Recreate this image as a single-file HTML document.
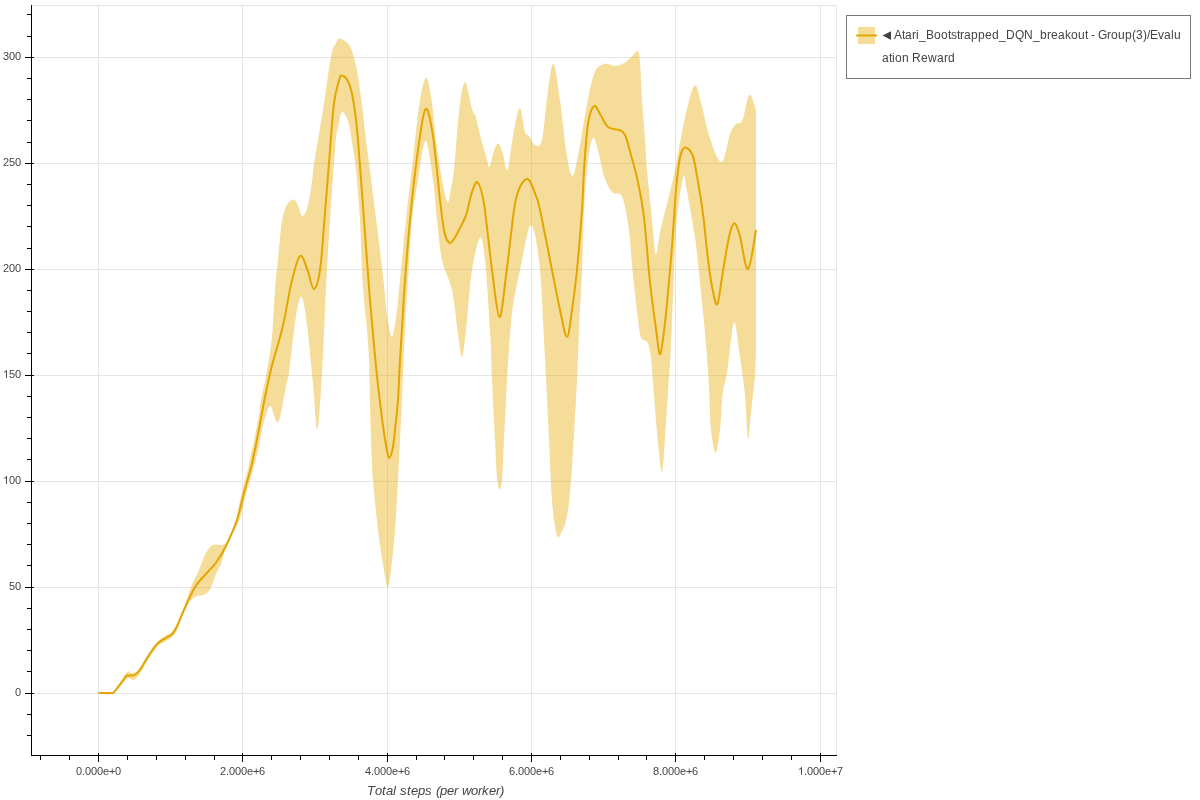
<!DOCTYPE html>
<html><head><meta charset="utf-8"><style>
html,body{margin:0;padding:0;background:#fff;width:1200px;height:800px;overflow:hidden}
svg{position:absolute;left:0;top:0;will-change:transform}
text{font-family:"Liberation Sans", sans-serif}
.leg{position:absolute;left:846px;top:15px;width:343px;height:62px;border:1px solid #777;box-sizing:content-box;background:#fff}
.lt{position:absolute;left:35px;top:8px;width:303px;font:12px "Liberation Sans", sans-serif;color:#444;line-height:23px;word-break:break-all;will-change:transform}
</style></head><body>
<svg width="1200" height="800" viewBox="0 0 1200 800">
<rect x="31.5" y="5.5" width="805" height="750" fill="none" stroke="#e5e5e5" stroke-width="1"/>
<g stroke="#e5e5e5" stroke-width="1"><line x1="98.5" y1="5" x2="98.5" y2="755" /><line x1="242.5" y1="5" x2="242.5" y2="755" /><line x1="387.5" y1="5" x2="387.5" y2="755" /><line x1="531.5" y1="5" x2="531.5" y2="755" /><line x1="675.5" y1="5" x2="675.5" y2="755" /><line x1="820.5" y1="5" x2="820.5" y2="755" /><line x1="32" y1="693.5" x2="837" y2="693.5" /><line x1="32" y1="587.5" x2="837" y2="587.5" /><line x1="32" y1="481.5" x2="837" y2="481.5" /><line x1="32" y1="375.5" x2="837" y2="375.5" /><line x1="32" y1="269.5" x2="837" y2="269.5" /><line x1="32" y1="163.5" x2="837" y2="163.5" /><line x1="32" y1="57.5" x2="837" y2="57.5" /></g>
<path d="M98.5 693.0C101.0 693.0 108.8 696.4 113.5 693.0C118.2 689.6 123.6 675.8 126.5 672.5C129.4 669.2 129.4 673.1 131.0 673.0C132.6 672.9 134.5 673.0 136.0 672.0C137.5 671.0 138.3 669.4 140.0 667.0C141.7 664.6 143.9 660.8 146.0 657.5C148.1 654.2 150.3 650.4 152.5 647.5C154.7 644.6 156.8 642.0 159.0 640.0C161.2 638.0 163.8 637.0 166.0 635.5C168.2 634.0 170.5 633.2 172.5 631.0C174.5 628.8 176.1 626.0 178.0 622.0C179.9 618.0 181.8 612.8 184.0 607.0C186.2 601.2 188.7 592.8 191.0 587.0C193.3 581.2 195.7 577.3 198.0 572.0C200.3 566.7 203.0 559.2 205.0 555.0C207.0 550.8 208.3 548.8 210.0 547.0C211.7 545.2 213.3 544.8 215.0 544.5C216.7 544.2 218.3 545.1 220.0 545.0C221.7 544.9 223.7 544.8 225.0 544.0C226.3 543.2 227.0 541.8 228.0 540.0C229.0 538.2 229.7 536.3 231.0 533.0C232.3 529.7 234.4 525.8 236.0 520.0C237.6 514.2 239.2 504.0 240.5 498.0C241.8 492.0 242.7 489.2 244.0 484.0C245.3 478.8 247.4 471.7 248.6 466.5C249.8 461.3 250.4 456.7 251.3 452.6C252.2 448.5 252.6 448.4 253.9 442.0C255.2 435.6 258.0 421.0 259.2 414.0C260.4 407.0 259.8 406.3 260.9 400.0C262.0 393.7 264.2 386.0 266.0 376.0C267.8 366.0 270.2 354.3 271.7 340.0C273.2 325.7 273.8 305.0 275.0 290.0C276.2 275.0 277.9 260.3 278.9 250.0C279.9 239.7 280.3 233.8 281.0 228.0C281.7 222.2 282.6 218.3 283.3 215.0C284.1 211.7 284.8 209.9 285.5 208.0C286.2 206.1 286.8 204.8 287.7 203.6C288.6 202.3 289.8 201.1 291.0 200.5C292.2 199.9 293.5 199.1 294.7 200.0C295.9 200.9 296.9 203.3 298.2 206.0C299.5 208.7 300.9 216.0 302.5 216.0C304.1 216.0 306.2 212.0 307.8 206.0C309.4 200.0 311.1 187.7 312.2 180.0C313.3 172.3 312.8 171.4 314.6 160.0C316.4 148.6 320.1 128.4 322.8 111.3C325.5 94.2 328.7 69.0 330.9 57.6C333.1 46.2 334.2 46.2 335.8 43.0C337.4 39.8 338.3 38.4 340.3 38.5C342.3 38.6 346.1 41.7 348.0 43.8C349.9 45.9 350.5 46.5 352.0 51.0C353.5 55.5 355.3 61.9 356.9 70.6C358.5 79.3 360.3 91.4 361.8 103.0C363.3 114.6 364.6 128.8 366.0 140.0C367.4 151.2 368.5 158.3 370.0 170.0C371.5 181.7 373.3 196.7 375.0 210.0C376.7 223.3 378.6 238.3 380.0 250.0C381.4 261.7 382.3 269.2 383.5 280.0C384.7 290.8 385.7 305.6 387.0 315.0C388.3 324.4 390.3 334.0 391.5 336.5C392.7 339.0 393.1 334.4 394.0 330.0C394.9 325.6 396.0 318.3 397.0 310.0C398.0 301.7 398.5 295.0 400.0 280.0C401.5 265.0 403.7 241.7 406.0 220.0C408.3 198.3 411.7 170.0 414.0 150.0C416.3 130.0 418.0 112.0 420.0 100.0C422.0 88.0 424.2 78.7 426.0 78.0C427.8 77.3 429.3 85.7 431.0 96.0C432.7 106.3 434.2 126.0 436.0 140.0C437.8 154.0 440.1 169.6 442.0 180.0C443.9 190.4 446.1 201.1 447.6 202.4C449.1 203.7 449.9 193.4 451.0 188.0C452.1 182.6 452.9 180.5 454.0 170.0C455.1 159.5 456.6 137.5 457.8 125.0C458.9 112.5 460.0 101.9 461.2 94.8C462.4 87.7 463.8 83.1 464.9 82.4C466.0 81.7 467.0 86.9 468.0 90.6C469.0 94.3 469.9 100.6 470.8 104.4C471.7 108.2 472.8 111.4 473.6 113.3C474.4 115.2 474.8 113.6 475.6 116.0C476.4 118.4 477.2 123.1 478.4 127.8C479.5 132.5 481.1 139.3 482.5 144.3C483.9 149.3 485.5 154.2 486.6 158.0C487.8 161.8 488.2 167.9 489.4 167.0C490.5 166.1 492.1 156.4 493.5 152.5C494.9 148.6 496.5 143.6 498.0 143.6C499.5 143.6 500.9 148.0 502.5 152.5C504.1 157.0 505.8 171.5 507.3 170.4C508.8 169.3 510.1 153.3 511.4 145.7C512.7 138.1 513.6 131.3 515.0 125.0C516.4 118.7 518.3 106.8 520.0 108.0C521.7 109.2 523.5 127.3 525.0 132.0C526.5 136.7 527.3 133.8 529.0 136.0C530.7 138.2 532.8 144.3 535.0 145.0C537.2 145.7 539.8 149.2 542.0 140.0C544.2 130.8 546.1 102.7 548.0 90.0C549.9 77.3 551.6 62.3 553.6 64.0C555.6 65.7 557.9 85.7 560.0 100.0C562.1 114.3 564.0 137.3 566.0 150.0C568.0 162.7 570.0 175.0 572.0 176.0C574.0 177.0 575.7 167.0 578.0 156.0C580.3 145.0 583.3 123.7 586.0 110.0C588.7 96.3 591.0 81.7 594.0 74.0C597.0 66.3 600.3 65.3 604.0 64.0C607.7 62.7 612.5 66.2 616.0 66.0C619.5 65.8 622.2 64.2 625.0 62.5C627.8 60.8 630.4 57.9 632.5 56.0C634.6 54.1 636.2 50.0 637.5 51.0C638.8 52.0 639.2 53.8 640.0 62.0C640.8 70.2 641.2 87.0 642.0 100.0C642.8 113.0 644.2 128.3 645.0 140.0C645.8 151.7 646.2 160.0 647.0 170.0C647.8 180.0 649.0 190.0 650.0 200.0C651.0 210.0 652.0 220.9 653.0 230.0C654.0 239.1 654.8 254.5 656.0 254.5C657.2 254.5 658.5 239.1 660.5 230.0C662.5 220.9 665.6 210.0 668.0 200.0C670.4 190.0 672.2 183.8 675.0 170.0C677.8 156.2 681.8 131.6 685.0 117.5C688.2 103.4 691.8 88.0 694.5 85.5C697.2 83.0 698.8 95.1 701.0 102.5C703.2 109.9 705.2 121.7 707.5 130.0C709.8 138.3 712.8 147.2 715.0 152.5C717.2 157.8 719.3 161.6 721.0 162.0C722.7 162.4 723.5 159.7 725.0 155.0C726.5 150.3 728.2 139.2 730.0 134.0C731.8 128.8 734.2 125.8 736.0 124.0C737.8 122.2 739.3 124.3 740.6 123.0C741.9 121.7 742.6 120.0 743.8 116.0C744.9 112.0 746.4 102.5 747.5 99.0C748.6 95.5 749.5 94.0 750.6 95.0C751.8 96.0 753.5 102.5 754.4 105.0C755.3 107.5 755.7 109.2 756.0 110.0L756.0 350.0C755.8 354.2 755.8 364.6 755.0 375.0C754.2 385.4 752.2 401.8 751.0 412.5C749.8 423.2 749.0 441.9 748.0 439.0C747.0 436.1 746.3 408.6 745.0 395.0C743.7 381.4 741.8 369.6 740.0 357.5C738.2 345.4 736.1 320.4 734.0 322.5C731.9 324.6 729.4 357.9 727.5 370.0C725.6 382.1 723.8 385.0 722.5 395.0C721.2 405.0 721.2 420.4 720.0 430.0C718.8 439.6 717.0 452.5 715.5 452.5C714.0 452.5 712.0 438.8 711.0 430.0C710.0 421.2 710.0 410.0 709.5 400.0C709.0 390.0 708.8 381.2 708.0 370.0C707.2 358.8 705.9 342.5 705.0 332.5C704.1 322.5 703.5 317.5 702.8 310.0C702.0 302.5 701.2 294.5 700.5 287.5C699.8 280.5 699.3 275.5 698.5 268.0C697.7 260.5 696.8 250.5 695.8 242.5C694.7 234.5 693.5 228.8 692.0 220.0C690.5 211.2 688.1 197.3 686.8 190.0C685.4 182.7 685.1 173.9 683.8 176.0C682.4 178.1 680.0 193.5 678.8 202.5C677.5 211.5 676.8 218.8 676.0 230.0C675.2 241.2 674.8 250.8 674.0 270.0C673.2 289.2 672.1 323.3 671.0 345.0C669.9 366.7 668.5 384.6 667.5 400.0C666.5 415.4 665.9 425.4 665.0 437.5C664.1 449.6 663.2 472.5 662.0 472.5C660.8 472.5 658.8 450.4 657.5 437.5C656.2 424.6 655.1 408.3 654.0 395.0C652.9 381.7 652.1 366.2 651.0 357.5C649.9 348.8 649.2 345.8 647.5 342.5C645.8 339.2 642.7 342.1 641.0 337.5C639.3 332.9 638.9 326.2 637.5 315.0C636.1 303.8 633.9 284.2 632.5 270.0C631.1 255.8 630.4 241.2 629.0 230.0C627.6 218.8 625.5 208.5 624.0 202.5C622.5 196.5 622.0 195.8 620.0 194.0C618.0 192.2 614.7 195.0 612.0 192.0C609.3 189.0 606.3 183.0 604.0 176.0C601.7 169.0 599.8 156.3 598.0 150.0C596.2 143.7 594.7 136.3 593.0 138.0C591.3 139.7 589.5 148.0 588.0 160.0C586.5 172.0 585.0 191.7 584.0 210.0C583.0 228.3 582.8 250.0 582.0 270.0C581.2 290.0 579.8 311.7 579.0 330.0C578.2 348.3 578.1 358.3 577.0 380.0C575.9 401.7 573.9 439.3 572.5 460.0C571.1 480.7 569.9 493.6 568.8 504.0C567.6 514.4 566.6 518.2 565.6 522.5C564.6 526.8 563.7 527.5 562.5 530.0C561.3 532.5 559.6 537.5 558.5 537.5C557.4 537.5 556.7 536.2 555.6 530.0C554.5 523.8 553.1 515.0 552.0 500.0C550.9 485.0 550.0 460.3 549.0 440.0C548.0 419.7 546.9 396.3 546.0 378.0C545.1 359.7 544.2 343.0 543.5 330.0C542.8 317.0 542.6 310.0 542.0 300.0C541.4 290.0 541.0 280.0 540.0 270.0C539.0 260.0 537.2 247.0 536.0 240.0C534.8 233.0 533.8 230.4 533.0 228.0C532.2 225.6 531.7 225.5 531.0 225.5C530.3 225.5 529.8 225.6 529.0 228.0C528.2 230.4 527.2 234.7 526.0 240.0C524.8 245.3 523.3 253.5 522.0 260.0C520.7 266.5 519.5 271.5 518.0 279.0C516.5 286.5 514.3 295.7 513.0 305.0C511.7 314.3 511.0 322.5 510.0 335.0C509.0 347.5 508.0 362.5 507.0 380.0C506.0 397.5 504.8 423.3 504.0 440.0C503.2 456.7 502.8 471.8 502.0 480.0C501.2 488.2 500.3 489.3 499.5 489.0C498.7 488.7 497.8 486.2 497.0 478.0C496.2 469.8 495.8 456.3 495.0 440.0C494.2 423.7 492.8 398.3 492.0 380.0C491.2 361.7 491.2 350.0 490.0 330.0C488.8 310.0 486.7 275.3 485.0 260.0C483.3 244.7 482.2 236.3 480.0 238.0C477.8 239.7 474.3 254.7 472.0 270.0C469.7 285.3 467.7 315.5 466.0 330.0C464.3 344.5 463.3 356.3 462.0 357.0C460.7 357.7 459.7 345.2 458.0 334.0C456.3 322.8 454.7 302.3 452.0 290.0C449.3 277.7 444.5 271.7 442.0 260.0C439.5 248.3 438.5 233.3 437.0 220.0C435.5 206.7 434.9 193.2 433.0 180.0C431.1 166.8 428.1 141.0 425.6 141.0C423.1 141.0 420.3 166.8 418.0 180.0C415.7 193.2 413.7 203.3 412.0 220.0C410.3 236.7 409.1 263.3 408.0 280.0C406.9 296.7 406.2 306.7 405.5 320.0C404.8 333.3 404.1 346.7 403.5 360.0C402.9 373.3 402.6 386.7 402.0 400.0C401.4 413.3 400.7 426.7 400.0 440.0C399.3 453.3 398.8 465.0 398.0 480.0C397.2 495.0 396.2 515.0 395.0 530.0C393.8 545.0 392.2 560.5 391.0 570.0C389.8 579.5 388.8 588.0 387.5 587.0C386.2 586.0 384.6 573.5 383.0 564.0C381.4 554.5 379.7 544.0 378.0 530.0C376.3 516.0 374.2 495.0 373.0 480.0C371.8 465.0 371.5 453.3 371.0 440.0C370.5 426.7 370.3 413.3 370.0 400.0C369.7 386.7 369.5 371.7 369.0 360.0C368.5 348.3 367.8 340.0 367.0 330.0C366.2 320.0 364.8 310.0 364.0 300.0C363.2 290.0 362.7 283.3 362.0 270.0C361.3 256.7 361.0 236.7 360.0 220.0C359.0 203.3 357.3 183.0 356.0 170.0C354.7 157.0 353.3 150.2 352.0 142.0C350.7 133.8 349.6 126.0 348.0 121.0C346.4 116.0 343.8 111.7 342.3 112.0C340.8 112.3 340.2 116.4 339.0 122.7C337.8 129.0 336.9 127.1 335.0 150.0C333.1 172.9 329.2 234.2 327.6 260.0C326.0 285.8 326.2 286.2 325.3 305.0C324.4 323.8 323.3 351.8 322.0 372.6C320.7 393.4 318.9 428.1 317.4 430.0C315.9 431.9 314.7 401.1 313.0 384.0C311.3 366.9 309.2 342.1 307.3 327.6C305.4 313.1 303.6 298.9 301.7 297.0C299.8 295.1 298.1 303.4 296.0 316.0C293.9 328.6 290.6 361.1 289.0 372.6C287.4 384.1 288.1 376.8 286.3 385.0C284.5 393.2 281.0 418.5 278.4 422.0C275.8 425.5 272.7 406.8 270.5 406.0C268.3 405.2 266.5 414.7 265.3 417.5C264.1 420.3 264.2 420.1 263.5 423.0C262.8 425.9 261.7 430.8 260.9 435.0C260.1 439.2 259.8 442.8 258.6 448.0C257.4 453.2 255.5 460.5 253.9 466.5C252.3 472.5 250.5 478.8 249.0 484.0C247.5 489.2 246.1 493.7 245.0 498.0C243.9 502.3 243.4 506.3 242.5 510.0C241.6 513.7 241.1 516.2 239.5 520.0C237.9 523.8 234.9 529.3 233.0 533.0C231.1 536.7 229.3 539.2 228.0 542.0C226.7 544.8 226.2 546.3 225.0 550.0C223.8 553.7 222.5 560.0 221.0 564.0C219.5 568.0 217.5 570.5 216.0 574.0C214.5 577.5 213.3 582.0 212.0 585.0C210.7 588.0 209.5 590.3 208.0 592.0C206.5 593.7 205.2 594.2 203.0 595.0C200.8 595.8 197.8 595.2 195.0 597.0C192.2 598.8 188.8 600.8 186.0 606.0C183.2 611.2 180.2 622.9 178.0 628.0C175.8 633.1 174.5 634.3 172.5 636.5C170.5 638.7 168.2 639.6 166.0 641.0C163.8 642.4 161.2 643.0 159.0 645.0C156.8 647.0 154.7 650.0 152.5 653.0C150.3 656.0 148.1 659.7 146.0 663.0C143.9 666.3 142.0 670.2 140.0 673.0C138.0 675.8 136.2 679.0 134.0 680.0C131.8 681.0 130.4 676.8 127.0 679.0C123.6 681.2 118.2 690.7 113.5 693.0C108.8 695.3 101.0 693.0 98.5 693.0Z" fill="#e6a800" fill-opacity="0.4" stroke="none"/>
<path d="M98.5 693L113.5 693L126.5 675.6C127.2 675.6 129.2 675.7 130.5 675.6C131.8 675.5 132.9 675.9 134.5 675.0C136.1 674.1 138.1 672.5 140.0 670.0C141.9 667.5 143.9 663.3 146.0 660.0C148.1 656.7 150.4 652.9 152.5 650.0C154.6 647.1 156.5 644.5 158.8 642.5C161.0 640.5 163.7 639.5 166.0 638.0C168.3 636.5 170.6 635.9 172.5 633.8C174.4 631.6 175.6 629.0 177.5 625.0C179.4 621.0 181.1 616.3 184.0 610.0C186.9 603.7 191.5 592.8 195.0 587.0C198.5 581.2 202.5 577.9 205.0 575.0C207.5 572.1 208.3 571.3 210.0 569.5C211.7 567.7 213.3 566.2 215.0 564.0C216.7 561.8 218.3 559.2 220.0 556.5C221.7 553.8 223.2 551.6 225.0 548.0C226.8 544.4 229.0 539.7 231.0 535.0C233.0 530.3 235.1 526.0 237.0 520.0C238.9 514.0 240.9 505.0 242.5 499.0C244.1 493.0 244.9 489.4 246.4 484.0C247.9 478.6 250.0 471.7 251.3 466.5C252.6 461.3 253.4 456.7 254.3 452.6C255.2 448.5 255.2 448.4 256.5 442.0C257.8 435.6 260.5 421.0 261.8 414.0C263.1 407.0 262.8 407.7 264.4 400.0C266.0 392.3 268.3 380.1 271.3 368.0C274.3 355.9 279.1 341.9 282.5 327.6C285.9 313.4 288.6 294.4 291.5 282.5C294.4 270.6 297.3 258.1 300.0 256.0C302.7 253.9 305.2 264.5 307.5 270.0C309.8 275.5 311.7 289.0 313.8 289.0C315.8 289.0 318.1 282.8 320.0 270.0C321.9 257.2 323.3 232.5 325.0 212.5C326.7 192.5 328.5 168.2 330.0 150.0C331.5 131.8 332.5 114.6 334.0 103.0C335.5 91.4 337.7 85.0 339.0 80.4C340.3 75.8 340.4 75.1 342.0 75.5C343.6 75.9 346.9 78.2 348.8 82.8C350.8 87.4 352.2 93.5 353.7 103.0C355.2 112.5 356.3 120.5 358.0 140.0C359.7 159.5 362.0 193.3 364.0 220.0C366.0 246.7 367.8 274.0 370.0 300.0C372.2 326.0 374.8 355.0 377.0 376.0C379.2 397.0 381.4 414.0 383.0 426.0C384.6 438.0 385.6 442.7 386.6 448.0C387.6 453.3 388.2 458.0 389.2 458.0C390.3 458.0 391.7 453.3 392.8 448.0C393.8 442.7 394.5 434.0 395.4 426.0C396.3 418.0 397.2 411.0 398.0 400.0C398.8 389.0 399.2 373.3 400.0 360.0C400.8 346.7 401.7 333.3 402.5 320.0C403.3 306.7 403.6 298.3 405.0 280.0C406.4 261.7 408.8 231.7 411.0 210.0C413.2 188.3 415.6 166.8 418.0 150.0C420.4 133.2 423.1 111.3 425.6 109.0C428.1 106.7 430.6 120.8 433.0 136.0C435.4 151.2 438.2 184.3 440.0 200.0C441.8 215.7 442.8 223.3 444.0 230.0C445.2 236.7 446.0 237.8 447.0 240.0C448.0 242.2 449.0 242.9 450.0 243.0C451.0 243.1 451.7 242.3 453.0 240.5C454.3 238.7 456.2 235.4 458.0 232.0C459.8 228.6 462.5 223.3 464.0 220.0C465.5 216.7 465.7 216.7 467.0 212.0C468.3 207.3 470.2 196.9 472.0 192.0C473.8 187.1 475.6 180.4 477.6 182.4C479.6 184.4 481.6 189.4 484.0 204.0C486.4 218.6 489.4 251.2 492.0 270.0C494.6 288.8 497.1 316.0 499.4 317.0C501.7 318.0 503.6 293.8 506.0 276.0C508.4 258.2 512.0 224.0 514.0 210.0C516.0 196.0 516.5 196.7 518.0 192.0C519.5 187.3 521.2 184.0 523.0 182.0C524.8 180.0 526.8 177.7 529.0 180.0C531.2 182.3 534.2 191.0 536.0 196.0C537.8 201.0 537.3 197.7 540.0 210.0C542.7 222.3 548.7 253.3 552.0 270.0C555.3 286.7 557.5 298.8 560.0 310.0C562.5 321.2 565.0 337.0 567.0 337.0C569.0 337.0 570.3 321.2 572.0 310.0C573.7 298.8 575.3 286.7 577.0 270.0C578.7 253.3 580.8 226.7 582.0 210.0C583.2 193.3 583.0 184.3 584.0 170.0C585.0 155.7 586.3 134.7 588.0 124.0C589.7 113.3 592.0 107.7 594.0 106.0C596.0 104.3 597.7 110.5 600.0 114.0C602.3 117.5 604.8 124.3 608.0 127.0C611.2 129.7 616.2 128.7 619.0 130.0C621.8 131.3 623.0 130.8 625.0 135.0C627.0 139.2 628.9 147.5 631.0 155.0C633.1 162.5 635.3 169.6 637.5 180.0C639.7 190.4 641.9 200.4 644.0 217.5C646.1 234.6 647.9 263.3 650.0 282.5C652.1 301.7 654.8 320.6 656.5 332.5C658.2 344.4 658.8 356.1 660.3 354.0C661.8 351.9 663.7 334.0 665.3 320.0C666.9 306.0 668.8 283.3 670.0 270.0C671.2 256.7 671.5 253.3 672.5 240.0C673.5 226.7 674.8 203.8 676.0 190.0C677.2 176.2 678.5 164.6 680.0 157.5C681.5 150.4 682.9 147.9 685.0 147.5C687.1 147.1 690.5 150.2 692.5 155.0C694.5 159.8 695.7 169.0 697.0 176.0C698.3 183.0 699.3 189.3 700.5 197.0C701.7 204.7 702.8 211.9 704.0 222.0C705.2 232.1 706.4 246.6 707.8 257.5C709.1 268.4 710.7 279.7 712.2 287.5C713.8 295.3 715.6 305.8 717.2 304.5C718.8 303.2 720.1 289.1 721.6 280.0C723.1 270.9 724.9 258.5 726.5 250.0C728.1 241.5 729.5 233.4 731.0 229.0C732.5 224.6 733.7 222.4 735.2 223.7C736.7 224.9 737.9 228.9 740.0 236.5C742.1 244.1 745.3 270.1 748.0 269.0C750.7 267.9 754.7 236.5 756.0 230.0" fill="none" stroke="#e3a600" stroke-width="2" stroke-linejoin="round"/>
<g stroke="#000" stroke-width="1"><line x1="31.5" y1="5" x2="31.5" y2="756" /><line x1="31" y1="755.5" x2="837" y2="755.5" /><line x1="25" y1="693.5" x2="34" y2="693.5" /><line x1="25" y1="587.5" x2="34" y2="587.5" /><line x1="25" y1="481.5" x2="34" y2="481.5" /><line x1="25" y1="375.5" x2="34" y2="375.5" /><line x1="25" y1="269.5" x2="34" y2="269.5" /><line x1="25" y1="163.5" x2="34" y2="163.5" /><line x1="25" y1="57.5" x2="34" y2="57.5" /><line x1="27" y1="735.5" x2="32" y2="735.5" /><line x1="27" y1="714.5" x2="32" y2="714.5" /><line x1="27" y1="671.5" x2="32" y2="671.5" /><line x1="27" y1="650.5" x2="32" y2="650.5" /><line x1="27" y1="629.5" x2="32" y2="629.5" /><line x1="27" y1="608.5" x2="32" y2="608.5" /><line x1="27" y1="565.5" x2="32" y2="565.5" /><line x1="27" y1="544.5" x2="32" y2="544.5" /><line x1="27" y1="523.5" x2="32" y2="523.5" /><line x1="27" y1="502.5" x2="32" y2="502.5" /><line x1="27" y1="459.5" x2="32" y2="459.5" /><line x1="27" y1="438.5" x2="32" y2="438.5" /><line x1="27" y1="417.5" x2="32" y2="417.5" /><line x1="27" y1="396.5" x2="32" y2="396.5" /><line x1="27" y1="353.5" x2="32" y2="353.5" /><line x1="27" y1="332.5" x2="32" y2="332.5" /><line x1="27" y1="311.5" x2="32" y2="311.5" /><line x1="27" y1="290.5" x2="32" y2="290.5" /><line x1="27" y1="248.5" x2="32" y2="248.5" /><line x1="27" y1="226.5" x2="32" y2="226.5" /><line x1="27" y1="205.5" x2="32" y2="205.5" /><line x1="27" y1="184.5" x2="32" y2="184.5" /><line x1="27" y1="142.5" x2="32" y2="142.5" /><line x1="27" y1="120.5" x2="32" y2="120.5" /><line x1="27" y1="99.5" x2="32" y2="99.5" /><line x1="27" y1="78.5" x2="32" y2="78.5" /><line x1="27" y1="36.5" x2="32" y2="36.5" /><line x1="27" y1="14.5" x2="32" y2="14.5" /><line x1="98.5" y1="753" x2="98.5" y2="762" /><line x1="242.5" y1="753" x2="242.5" y2="762" /><line x1="387.5" y1="753" x2="387.5" y2="762" /><line x1="531.5" y1="753" x2="531.5" y2="762" /><line x1="675.5" y1="753" x2="675.5" y2="762" /><line x1="820.5" y1="753" x2="820.5" y2="762" /><line x1="40.5" y1="755" x2="40.5" y2="760" /><line x1="69.5" y1="755" x2="69.5" y2="760" /><line x1="127.5" y1="755" x2="127.5" y2="760" /><line x1="156.5" y1="755" x2="156.5" y2="760" /><line x1="185.5" y1="755" x2="185.5" y2="760" /><line x1="214.5" y1="755" x2="214.5" y2="760" /><line x1="271.5" y1="755" x2="271.5" y2="760" /><line x1="300.5" y1="755" x2="300.5" y2="760" /><line x1="329.5" y1="755" x2="329.5" y2="760" /><line x1="358.5" y1="755" x2="358.5" y2="760" /><line x1="416.5" y1="755" x2="416.5" y2="760" /><line x1="444.5" y1="755" x2="444.5" y2="760" /><line x1="473.5" y1="755" x2="473.5" y2="760" /><line x1="502.5" y1="755" x2="502.5" y2="760" /><line x1="560.5" y1="755" x2="560.5" y2="760" /><line x1="589.5" y1="755" x2="589.5" y2="760" /><line x1="618.5" y1="755" x2="618.5" y2="760" /><line x1="646.5" y1="755" x2="646.5" y2="760" /><line x1="704.5" y1="755" x2="704.5" y2="760" /><line x1="733.5" y1="755" x2="733.5" y2="760" /><line x1="762.5" y1="755" x2="762.5" y2="760" /><line x1="791.5" y1="755" x2="791.5" y2="760" /></g>
<g><text x="76 82 85 91 97 103 109 115" y="775" font-size="11" fill="#444" >0.000e+0</text><text x="220 226 229 235 241 247 253 259" y="775" font-size="11" fill="#444" >2.000e+6</text><text x="365 371 374 380 386 392 398 404" y="775" font-size="11" fill="#444" >4.000e+6</text><text x="509 515 518 524 530 536 542 548" y="775" font-size="11" fill="#444" >6.000e+6</text><text x="653 659 662 668 674 680 686 692" y="775" font-size="11" fill="#444" >8.000e+6</text><text x="804 807 813 819 825 831 837" y="775" font-size="11" fill="#444" >.000e+7</text><path d="M800.97 775.00 L801.93 775.00 L801.93 767.12 L801.30 767.12 L800.86 767.79 L800.09 768.40 L799.21 768.84 L799.21 769.77 L800.09 769.39 L800.97 768.73Z" fill="#444"/><text x="15" y="696" font-size="11" fill="#444" >0</text><text x="9 15" y="590" font-size="11" fill="#444" >50</text><text x="9 15" y="484" font-size="11" fill="#444" >00</text><path d="M5.97 484.00 L6.93 484.00 L6.93 476.12 L6.30 476.12 L5.86 476.80 L5.09 477.40 L4.21 477.84 L4.21 478.77 L5.09 478.39 L5.97 477.73Z" fill="#444"/><text x="9 15" y="378" font-size="11" fill="#444" >50</text><path d="M5.97 378.00 L6.93 378.00 L6.93 370.12 L6.30 370.12 L5.86 370.80 L5.09 371.40 L4.21 371.84 L4.21 372.77 L5.09 372.39 L5.97 371.73Z" fill="#444"/><text x="3 9 15" y="272" font-size="11" fill="#444" >200</text><text x="3 9 15" y="166" font-size="11" fill="#444" >250</text><text x="3 9 15" y="60" font-size="11" fill="#444" >300</text></g>
<text x="367 375 382 386 393 396 400 407 411 418 425 432 436 440 447 454 458 462 471 478 482 489 496 500" y="795" font-size="13" font-style="italic" fill="#444" >Total steps (per worker)</text>
<rect x="846.5" y="15.5" width="344" height="63" fill="#fff" stroke="#777" stroke-width="1"/>
<rect x="858" y="27" width="17" height="17" fill="#e6a800" fill-opacity="0.4"/>
<line x1="857" y1="35.5" x2="876" y2="35.5" stroke="#e3a600" stroke-width="2" stroke-linecap="round"/>
<polygon points="882.5,35.6 891,31.2 891,40" fill="#444"/>
<text x="894 902 905 912 916 919 926 934 941 948 951 957 960 964 971 978 985 992 999 1006 1015 1024 1033 1040 1047 1051 1058 1065 1071 1078 1085 1088 1091 1095 1098 1107 1111 1118 1125 1132 1136 1143 1147 1150 1158 1164 1171 1174" y="39" font-size="12" fill="#444" >Atari_Bootstrapped_DQN_breakout - Group(3)/Evalu</text>
<text x="882 889 892 895 902 909 912 921 928 937 944 948" y="62" font-size="12" fill="#444" >ation Reward</text>
</svg>
</body></html>
